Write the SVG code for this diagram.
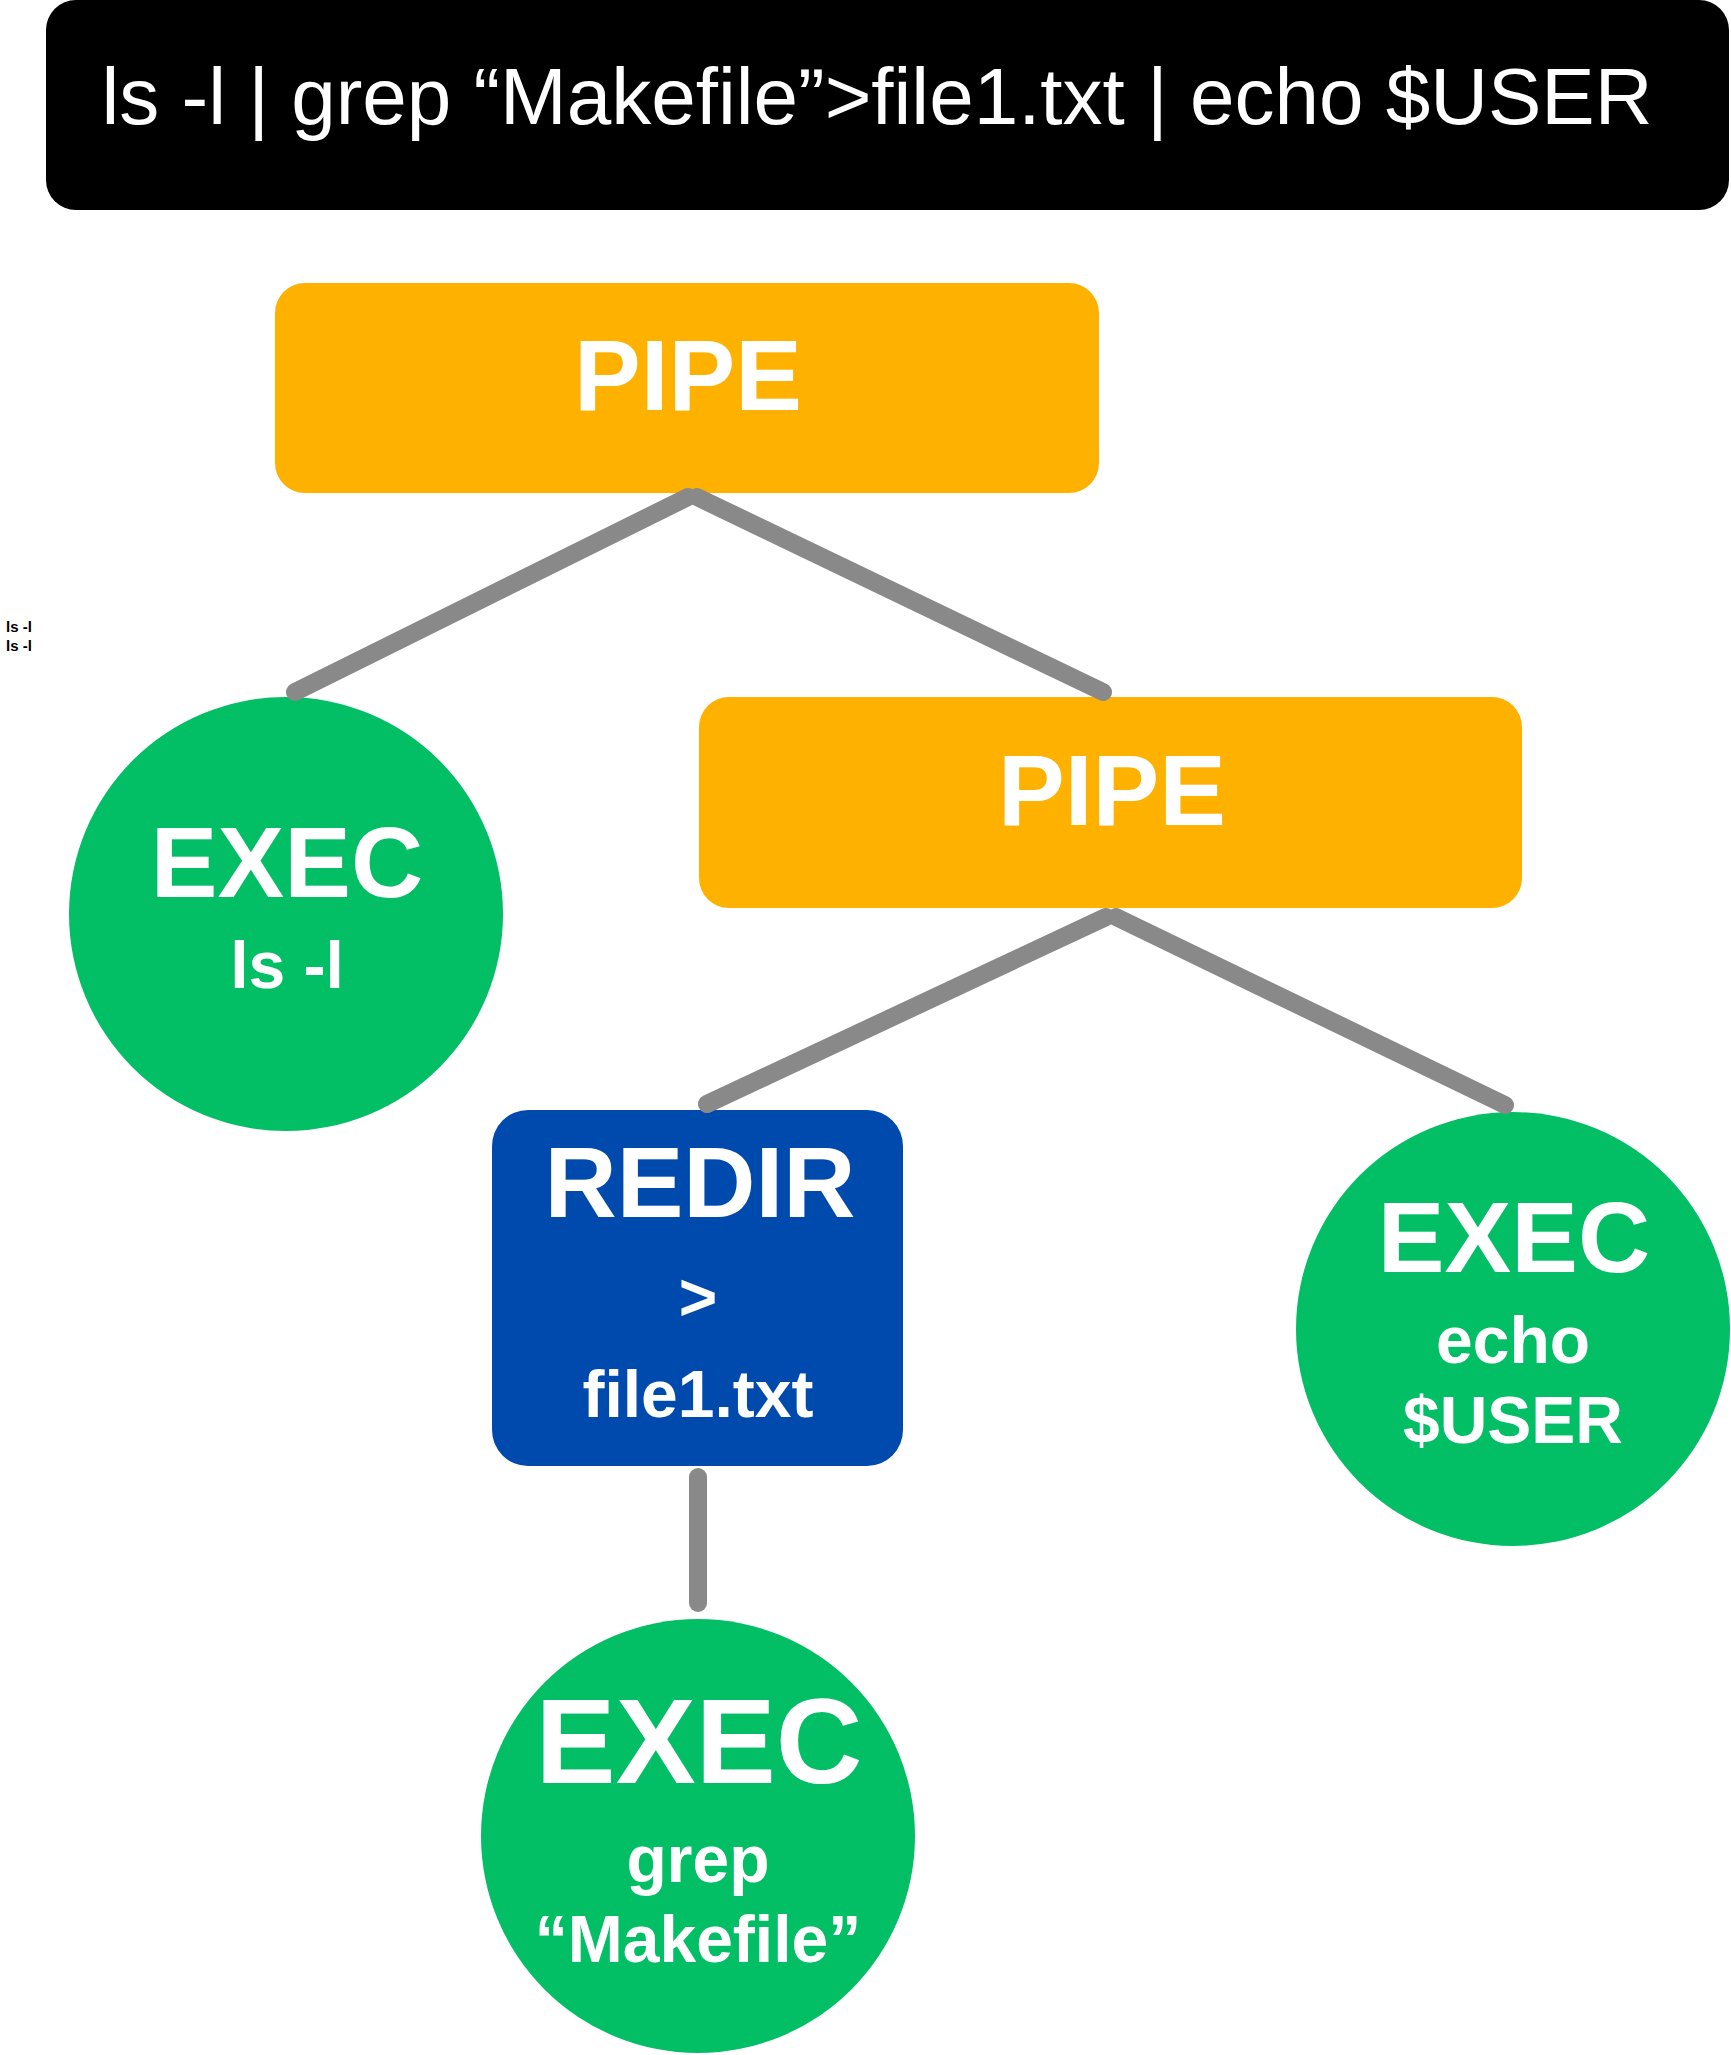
<svg xmlns="http://www.w3.org/2000/svg" width="1731" height="2055" viewBox="0 0 1731 2055">
<style>
text{font-family:"Liberation Sans",Arial,sans-serif;fill:#fff;text-anchor:middle}
.b{font-weight:bold}
.pipe{fill:#FFB100}
.exec{fill:#02BE64}
.redir{fill:#004AAD}
.conn line{stroke:#898989;stroke-width:18;stroke-linecap:round}
</style>
<rect width="1731" height="2055" fill="#fff"/>
<g id="header">
<rect x="46" y="0" width="1683" height="210" rx="30" fill="#000"/>
<text x="877" y="124" font-size="80">ls -l | grep “Makefile”&gt;file1.txt | echo $USER</text>
</g>
<g id="note">
<text x="6" y="632" font-size="15" class="b" style="fill:#000;text-anchor:start">ls -l</text>
<text x="6" y="651" font-size="15" class="b" style="fill:#000;text-anchor:start">ls -l</text>
</g>
<g id="pipe1">
<rect class="pipe" x="275" y="283" width="824" height="210" rx="30"/>
<text x="688" y="410" font-size="100" class="b">PIPE</text>
</g>
<g id="pipe2">
<rect class="pipe" x="699" y="697" width="823" height="211" rx="30"/>
<text x="1112" y="825" font-size="100" class="b">PIPE</text>
</g>
<g id="exec-ls">
<circle class="exec" cx="286" cy="914" r="217"/>
<text x="287" y="897" font-size="100" class="b">EXEC</text>
<text x="287" y="988" font-size="66" class="b">ls -l</text>
</g>
<g id="redir">
<rect class="redir" x="492" y="1110" width="411" height="356" rx="36"/>
<text x="700" y="1217" font-size="100" class="b">REDIR</text>
<text x="698" y="1320" font-size="66" class="b">&gt;</text>
<text x="698" y="1417" font-size="66" class="b">file1.txt</text>
</g>
<g id="exec-echo">
<circle class="exec" cx="1513" cy="1329" r="217"/>
<text x="1514" y="1272" font-size="100" class="b">EXEC</text>
<text x="1513" y="1363" font-size="66" class="b">echo</text>
<text x="1513" y="1443" font-size="66" class="b">$USER</text>
</g>
<g id="exec-grep">
<circle class="exec" cx="698" cy="1836" r="217"/>
<text x="699" y="1783" font-size="120" class="b">EXEC</text>
<text x="698" y="1882" font-size="66" class="b">grep</text>
<text x="698" y="1962" font-size="66" class="b">“Makefile”</text>
</g>
<g id="connectors" class="conn">
<line x1="688" y1="497" x2="295" y2="692"/>
<line x1="697" y1="497" x2="1103" y2="692"/>
<line x1="1106" y1="917" x2="707" y2="1104"/>
<line x1="1116" y1="917" x2="1505" y2="1105"/>
<line x1="698" y1="1477" x2="698" y2="1603"/>
</g>
</svg>
